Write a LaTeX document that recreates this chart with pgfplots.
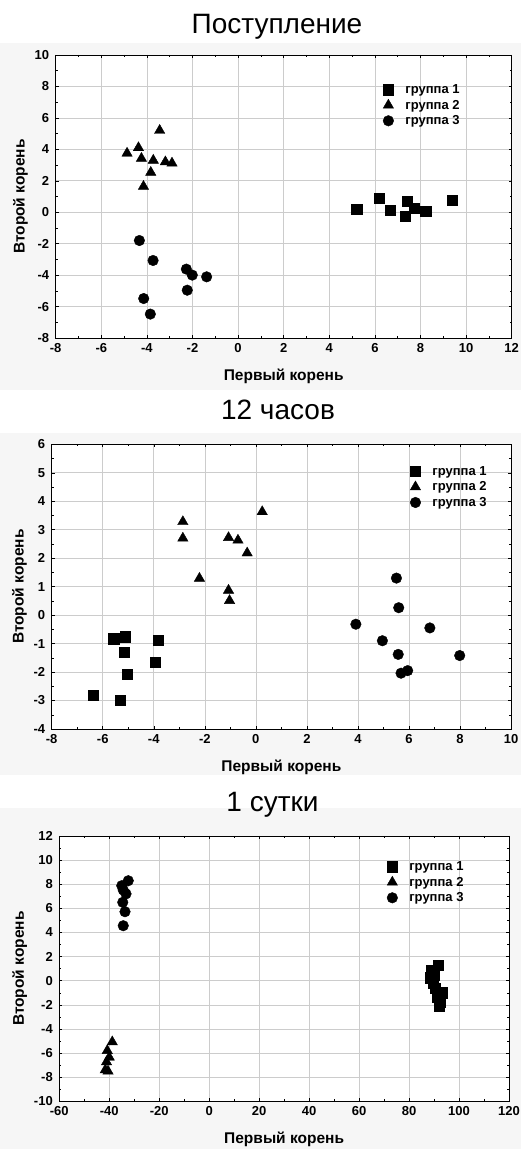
\documentclass[border=0pt]{standalone}
\usepackage{pgfplots}
\pgfplotsset{compat=1.18}
\usepackage{fontspec}
\setmainfont{Liberation Sans}
\usetikzlibrary{backgrounds}

\pgfplotsset{
  myaxis/.style={
    scale only axis,
    axis background/.style={fill=white},
    grid=major,
    major grid style={gray!40, line width=0.6bp},
    tick align=inside,
    major tick length=3bp, minor tick length=2bp,
    minor tick num=1,
    tick style={black, line width=0.5bp},
    axis line style={line width=0.8bp},
    /pgf/number format/assume math mode=true,
    tick label style={font=\bfseries\fontsize{13bp}{13bp}\selectfont},
    xticklabel style={yshift=-2bp},
    yticklabel style={xshift=-3bp},
    label style={font=\bfseries\fontsize{15.5bp}{16bp}\selectfont},
    xlabel style={yshift=-9bp},
    xlabel={Первый корень}, ylabel={Второй корень},
    legend style={draw=none, fill=none, inner sep=0pt,
      font=\bfseries\fontsize{13bp}{16bp}\selectfont, row sep=1bp},
    legend cell align=left,
    legend image code/.code={\path[draw=none,fill=none] (0bp,-1bp) rectangle (20bp,1bp); \draw[##1] plot coordinates {(5bp,0bp)};},
  },
  sq/.style={only marks, mark=square*, mark size=5.1bp, black, mark options={fill=black}},
  tr/.style={only marks, mark=triangle*, mark size=6bp, black, mark options={fill=black}},
  ci/.style={only marks, mark=*, mark size=5.3bp, black, mark options={fill=black}},
}

\begin{document}
\begin{tikzpicture}
\useasboundingbox (0,0) rectangle (521bp,1149bp);

% ---------- Panel 1 ----------
\node[anchor=base, font=\fontsize{28bp}{30bp}\selectfont] at (277bp,1115.7bp) {Поступление};
\begin{axis}[myaxis, name=ax1,
  at={(55.7bp,811bp)}, anchor=south west,
  width=456bp, height=283bp,
  xmin=-8, xmax=12, ymin=-8, ymax=10,
  xtick={-8,-6,...,12}, ytick={-8,-6,...,10},
  legend style={at={(axis cs:6.35,6.8)}, anchor=west},
]
\addplot[sq] coordinates {(5.2,0.19) (6.2,0.91) (6.66,0.15) (7.42,0.7) (7.73,0.25) (7.34,-0.23) (8.23,0.06) (9.4,0.76)};
\addlegendentry{группа 1}
\addplot[tr] coordinates {(-3.44,5.2) (-4.87,3.75) (-4.37,4.1) (-4.24,3.42) (-3.72,3.3) (-3.19,3.2) (-2.9,3.12) (-3.83,2.53) (-4.15,1.64)};
\addlegendentry{группа 2}
\addplot[ci] coordinates {(-4.33,-1.8) (-3.73,-3.07) (-2.27,-3.62) (-2.01,-4.0) (-1.38,-4.11) (-2.23,-4.96) (-4.14,-5.49) (-3.85,-6.48)};
\addlegendentry{группа 3}
\end{axis}

% ---------- Panel 2 ----------
\node[anchor=base, font=\fontsize{28bp}{30bp}\selectfont] at (278bp,729bp) {12 часов};
\begin{axis}[myaxis, name=ax2,
  at={(51.7bp,420bp)}, anchor=south west,
  width=459.3bp, height=284.7bp,
  xmin=-8, xmax=10, ymin=-4, ymax=6,
  xtick={-8,-6,...,10}, ytick={-4,-3,...,6},
  legend style={at={(axis cs:6.04,4.5)}, anchor=west},
]
\addplot[sq] coordinates {(-6.37,-2.82) (-5.57,-0.83) (-5.11,-0.76) (-5.15,-1.3) (-5.04,-2.07) (-5.32,-2.98) (-3.94,-1.65) (-3.84,-0.87)};
\addlegendentry{группа 1}
\addplot[tr] coordinates {(-2.86,3.28) (-2.86,2.7) (-2.21,1.29) (-1.07,2.72) (-0.7,2.63) (-0.34,2.18) (-1.07,0.87) (-1.03,0.51) (0.25,3.63)};
\addlegendentry{группа 2}
\addplot[ci] coordinates {(3.92,-0.32) (4.96,-0.9) (5.51,1.3) (5.6,0.26) (5.58,-1.38) (5.69,-2.04) (5.95,-1.95) (6.82,-0.45) (7.99,-1.42)};
\addlegendentry{группа 3}
\end{axis}

% ---------- Panel 3 ----------
\node[anchor=base, font=\fontsize{28bp}{30bp}\selectfont] at (272.5bp,337.3bp) {1 сутки};
\begin{axis}[myaxis, name=ax3,
  at={(59.3bp,47.7bp)}, anchor=south west,
  width=449.7bp, height=265.3bp,
  xmin=-60, xmax=120, ymin=-10, ymax=12,
  xtick={-60,-40,...,120}, ytick={-10,-8,...,12},
  legend style={at={(axis cs:71.1,8.16)}, anchor=west},
]
\addplot[sq] coordinates {(91.6,1.28) (89.0,0.9) (88.5,0.25) (90.0,0.5) (89.6,-0.2) (90.6,-0.6) (93.4,-1.0) (91.2,-1.35) (92.3,-1.8) (92.2,-2.1)};
\addlegendentry{группа 1}
\addplot[tr] coordinates {(-38.8,-5.08) (-40.8,-5.8) (-40.0,-6.35) (-41.1,-6.74) (-41.6,-7.4) (-40.5,-7.5)};
\addlegendentry{группа 2}
\addplot[ci] coordinates {(-32.4,8.29) (-35.0,7.88) (-34.4,7.52) (-33.3,7.2) (-34.6,6.5) (-33.7,5.72) (-34.4,4.56)};
\addlegendentry{группа 3}
\end{axis}

\begin{scope}[on background layer]
\fill[gray!7] (0,759bp) rectangle (521bp,1106bp);
\fill[gray!7] (0,374bp) rectangle (521bp,716bp);
\fill[gray!7] (0,0bp) rectangle (521bp,341bp);
\end{scope}
\end{tikzpicture}
\end{document}
